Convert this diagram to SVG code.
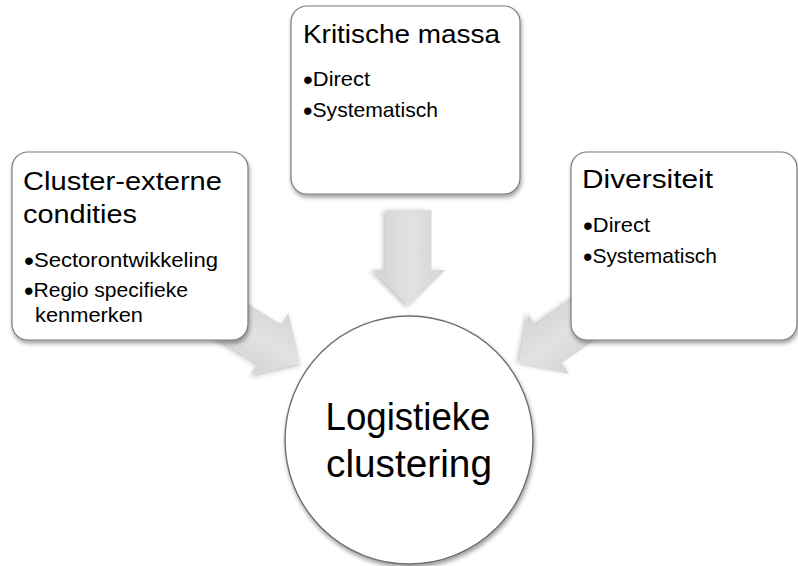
<svg xmlns="http://www.w3.org/2000/svg" width="798" height="566" viewBox="0 0 798 566">
  <defs>
    <filter id="shadow" x="-20%" y="-20%" width="140%" height="140%">
      <feDropShadow dx="1" dy="3" stdDeviation="2.2" flood-color="#000" flood-opacity="0.38"/>
    </filter>
    <filter id="arrowShadow" x="-30%" y="-30%" width="160%" height="160%">
      <feDropShadow dx="1" dy="3" stdDeviation="2.5" flood-color="#000" flood-opacity="0.25"/>
    </filter>
    <linearGradient id="arrowFill" x1="0" y1="0" x2="0" y2="1">
      <stop offset="0" stop-color="#d4d4d4"/>
      <stop offset="0.5" stop-color="#e2e2e2"/>
      <stop offset="1" stop-color="#d2d2d2"/>
    </linearGradient>
    <!-- block arrow pointing along +x, head base at x=60 -->
    <path id="blockArrow" d="M0,-22.5 L60,-22.5 L60,-36 L96,0 L60,36 L60,22.5 L0,22.5 Z"/>
  </defs>
  <style>
    .box { fill: #ffffff; stroke: #7a7a7a; stroke-width: 1.2; filter: url(#shadow); }
    .circle { fill: #ffffff; stroke: #6e6e6e; stroke-width: 1.4; filter: url(#shadow); }
    .arrow { fill: url(#arrowFill); filter: url(#arrowShadow); }
    text { font-family: "Liberation Sans", Arial, sans-serif; fill: #000000; }
    .title { font-size: 26px; }
    .item { font-size: 21px; }
    .bullet { font-size: 27px; }
    .center { font-size: 38px; text-anchor: middle; }
  </style>

  <rect width="798" height="566" fill="#ffffff"/>

  <!-- connectors: block arrows toward the central circle -->
  <g id="connectors">
    <use href="#blockArrow" class="arrow" transform="translate(409,210) rotate(90)"/>
    <use href="#blockArrow" class="arrow" transform="translate(218.4,312.1) rotate(31.5)"/>
    <use href="#blockArrow" class="arrow" transform="translate(598.2,310.3) rotate(145.2)"/>
  </g>

  <g id="node-kritische-massa">
    <rect class="box" x="291" y="6" width="229" height="188" rx="16"/>
    <text class="title" x="303" y="43" textLength="197" lengthAdjust="spacingAndGlyphs">Kritische massa</text>
    <text class="item" x="303" y="86" textLength="67" lengthAdjust="spacingAndGlyphs"><tspan class="bullet" dy="2.5">•</tspan><tspan dy="-2.5">Direct</tspan></text>
    <text class="item" x="303" y="117" textLength="135" lengthAdjust="spacingAndGlyphs"><tspan class="bullet" dy="2.5">•</tspan><tspan dy="-2.5">Systematisch</tspan></text>
  </g>

  <g id="node-cluster-externe">
    <rect class="box" x="12" y="152" width="236" height="188" rx="16"/>
    <text class="title" x="23" y="190" textLength="199" lengthAdjust="spacingAndGlyphs">Cluster-externe</text>
    <text class="title" x="23" y="223" textLength="114" lengthAdjust="spacingAndGlyphs">condities</text>
    <text class="item" x="24" y="267" textLength="194" lengthAdjust="spacingAndGlyphs"><tspan class="bullet" dy="2.5">•</tspan><tspan dy="-2.5">Sectorontwikkeling</tspan></text>
    <text class="item" x="24" y="297" textLength="164" lengthAdjust="spacingAndGlyphs"><tspan class="bullet" dy="2.5">•</tspan><tspan dy="-2.5">Regio specifieke</tspan></text>
    <text class="item" x="35" y="322" textLength="108" lengthAdjust="spacingAndGlyphs">kenmerken</text>
  </g>

  <g id="node-diversiteit">
    <rect class="box" x="571" y="152" width="226" height="188" rx="16"/>
    <text class="title" x="582" y="188" textLength="131" lengthAdjust="spacingAndGlyphs">Diversiteit</text>
    <text class="item" x="583" y="232" textLength="67" lengthAdjust="spacingAndGlyphs"><tspan class="bullet" dy="2.5">•</tspan><tspan dy="-2.5">Direct</tspan></text>
    <text class="item" x="583" y="263" textLength="134" lengthAdjust="spacingAndGlyphs"><tspan class="bullet" dy="2.5">•</tspan><tspan dy="-2.5">Systematisch</tspan></text>
  </g>

  <g id="node-logistieke-clustering">
    <circle class="circle" cx="409" cy="440" r="124"/>
    <text class="center" x="408" y="430" textLength="165" lengthAdjust="spacingAndGlyphs">Logistieke</text>
    <text class="center" x="409" y="477" textLength="166" lengthAdjust="spacingAndGlyphs">clustering</text>
  </g>
</svg>
